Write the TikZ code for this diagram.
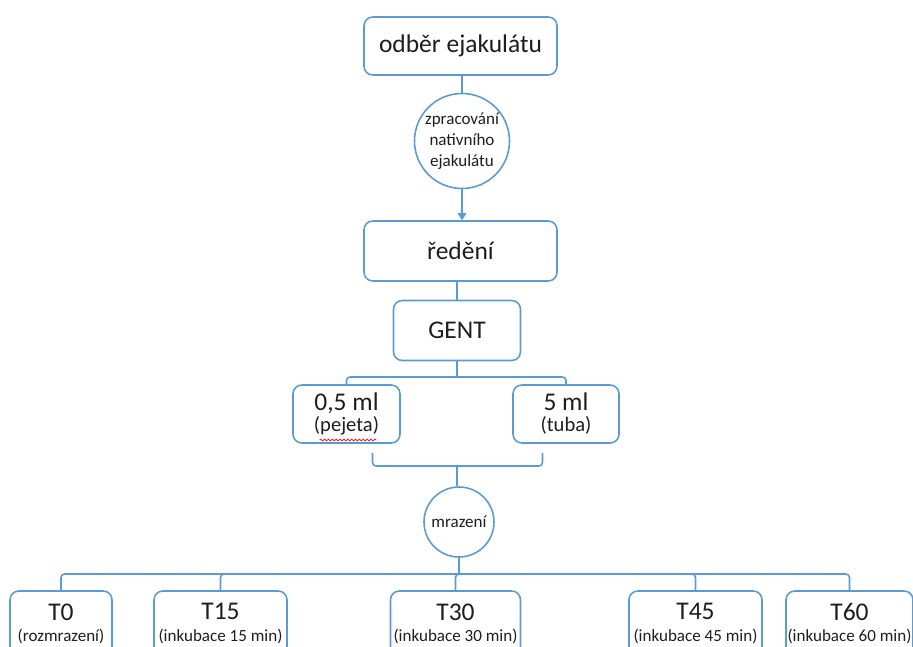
\documentclass[tikz,border=0pt]{standalone}
\usepackage{fontspec}
\setmainfont{Carlito}
\usetikzlibrary{arrows.meta,decorations.pathmorphing}
\definecolor{linka}{RGB}{91,155,213}
\definecolor{pismo}{RGB}{30,30,30}
\newcommand{\velke}{\fontsize{14.5}{17}\selectfont}
\newcommand{\stredni}{\fontsize{11.7}{13}\selectfont}
\newcommand{\male}{\fontsize{9.7}{12}\selectfont}
\tikzset{
  krok/.style={draw=linka, line width=0.9pt, rounded corners=5pt, fill=white,
    text=pismo, align=center, inner sep=0pt},
  kruh/.style={draw=linka, line width=0.9pt, circle, fill=white, text=pismo,
    align=center, inner sep=0pt},
  spoj/.style={draw=linka, line width=0.9pt, rounded corners=2pt}
}
\begin{document}
\begin{tikzpicture}
\clip (0,0) rectangle (18.26,12.92);
\fill[white] (0,0) rectangle (18.26,12.92);

\node[krok, minimum width=3.86cm, minimum height=1.16cm] (odber) at (9.21,12.00) {\velke odběr ejakulátu};
\node[kruh, minimum size=1.90cm] (zprac) at (9.24,10.10) {\male zpracování\\\male nativního\\\male ejakulátu};
\node[krok, minimum width=3.86cm, minimum height=1.20cm] (redeni) at (9.21,7.90) {\velke ředění};
\node[krok, minimum width=2.54cm, minimum height=1.20cm] (gent) at (9.14,6.31) {\velke GENT};

\node[krok, minimum width=2.14cm, minimum height=1.16cm] (pejeta) at (6.93,4.64) {\velke 0,5 ml\\\stredni (pejeta)};
\node[krok, minimum width=2.12cm, minimum height=1.16cm] (tuba) at (11.32,4.64) {\velke 5 ml\\\stredni (tuba)};
\draw[red, line width=0.4pt, decorate, decoration={snake, amplitude=0.5pt, segment length=2.2pt}] (6.39,4.12) -- (7.53,4.12);

\node[kruh, minimum size=1.40cm] (mraz) at (9.18,2.48) {\male mrazení};

\node[krok, minimum width=2.04cm, minimum height=1.30cm] (t0) at (1.22,0.45) {\velke T0\\\male (rozmrazení)};
\node[krok, minimum width=2.66cm, minimum height=1.30cm] (t15) at (4.41,0.45) {\velke T15\\\male (inkubace 15 min)};
\node[krok, minimum width=2.60cm, minimum height=1.30cm] (t30) at (9.11,0.45) {\velke T30\\\male (inkubace 30 min)};
\node[krok, minimum width=2.66cm, minimum height=1.30cm] (t45) at (13.91,0.45) {\velke T45\\\male (inkubace 45 min)};
\node[krok, minimum width=2.54cm, minimum height=1.30cm] (t60) at (16.99,0.45) {\velke T60\\\male (inkubace 60 min)};

\coordinate (delA) at (9.14,5.38);
\coordinate (zavL) at (7.45,3.86);
\coordinate (zavR) at (10.85,3.86);
\coordinate (zavS) at (9.14,3.60);
\coordinate (delB) at (9.16,1.44);

\draw[spoj] (zprac.north) -- (zprac.north |- odber.south);
\draw[spoj, -{Triangle[length=4pt,width=5pt]}] (zprac.south) -- (zprac.south |- redeni.north);
\draw[spoj] (gent.north) -- (gent.north |- redeni.south);
\draw[spoj] (gent.south) -- (delA);
\draw[spoj] (delA) -| (pejeta.north);
\draw[spoj] (delA) -| (tuba.north);
\draw[spoj] (zavL) |- (zavS) -| (zavR);
\draw[spoj] (zavS) -- (zavS |- mraz.north);
\draw[spoj] (mraz.south) -- (mraz.south |- delB);
\foreach \t in {t0,t15,t30,t45,t60}
  \draw[spoj] (mraz.south |- delB) -| (\t.north);
\end{tikzpicture}
\end{document}
